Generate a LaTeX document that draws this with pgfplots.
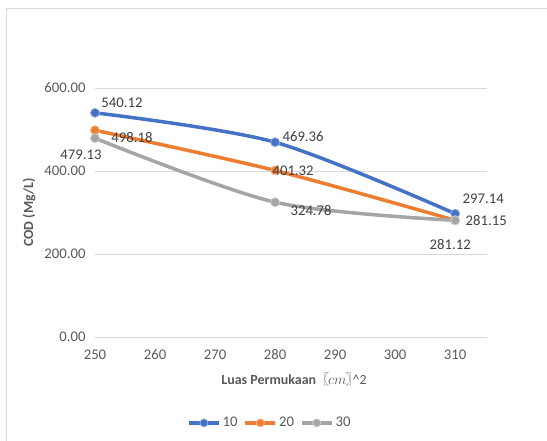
\documentclass[border=0pt]{standalone}
\usepackage{fontspec}
\setmainfont{Carlito}
\newfontfamily\cjk{Noto Sans CJK SC}
\usepackage{pgfplots}
\usepackage{pgfplotstable}
\pgfplotsset{compat=1.18}

\definecolor{sblue}{HTML}{4472C4}
\definecolor{sorange}{HTML}{ED7D31}
\definecolor{sgray}{HTML}{A5A5A5}
\definecolor{gridc}{HTML}{D9D9D9}
\definecolor{tickc}{HTML}{595959}
\definecolor{labc}{HTML}{404040}

% x, COD, label offsets (bp)
\pgfplotstableread{
x   y       dx   dy
250 540.12  27   10
280 469.36  28   6
310 297.14  28   15
}\seriesA
\pgfplotstableread{
x   y       dx   dy
250 498.18  37   -7
280 401.32  18   0
310 281.12  -5   -24
}\seriesB
\pgfplotstableread{
x   y       dx   dy
250 479.13  -14  -17
280 324.78  36   -8
310 281.15  31   0
}\seriesC

\pgfplotsset{
  codline/.style={
    color=#1, line width=3.5bp, smooth, tension=0.5,
    mark=*, mark size=4.5bp,
    mark options={fill=#1, draw=#1!55!white, line width=0.8bp},
    visualization depends on={\thisrow{dx}\as\dx},
    visualization depends on={\thisrow{dy}\as\dy},
    nodes near coords={\pgfmathprintnumber[fixed,precision=2,zerofill]{\pgfplotspointmeta}},
    point meta=y,
    every node near coord/.style={anchor=center, text=labc,
      font=\fontsize{14.8}{17}\selectfont, xshift=\dx bp, yshift=\dy bp},
  },
}

\begin{document}
\begin{tikzpicture}
  \useasboundingbox (0,0) rectangle (547bp,441bp);
  % chart frame
  \draw[gridc, line width=1.2bp] (6.5bp,-20bp) -- (6.5bp,432.5bp) -- (580bp,432.5bp);
  \begin{axis}[
    at={(95bp,104bp)}, anchor=south west,
    scale only axis, width=392bp, height=249bp,
    xmin=250, xmax=315.3, ymin=0, ymax=600,
    xtick={250,260,...,310}, ytick={0,200,...,600},
    axis line style={draw=none},
    major tick length=0pt,
    ymajorgrids, grid style={gridc, line width=1bp},
    tick label style={text=tickc, font=\fontsize{14.8}{17}\selectfont},
    /pgf/number format/assume math mode=true,
    yticklabel style={/pgf/number format/.cd, fixed, precision=2, zerofill},
    xticklabel style={/pgf/number format/.cd, 1000 sep={}},
    xticklabel shift=9bp, yticklabel shift=6bp,
    ylabel={\textbf{COD (Mg/L)}},
    ylabel style={text=tickc, font=\fontsize{14}{16}\selectfont, yshift=2bp},
    xlabel={\textbf{Luas Permukaan}\kern-0.05em{\cjk 〖}\kern-0.1em$cm$\kern-0.05em{\cjk 〗}\kern-0.5em\^{}2},
    xlabel style={text=tickc, font=\fontsize{14}{16}\selectfont, yshift=-6bp, xshift=3bp},
    legend columns=3,
    legend style={draw=none, fill=none, at={(0.446,-0.345)}, anchor=center,
      font=\fontsize{14.8}{17}\selectfont, text=tickc,
      /tikz/every even column/.append style={column sep=4bp}},
    legend image code/.code={
      \draw[mark repeat=2, mark phase=2, line width=3.5bp, mark size=4bp]
        plot coordinates {(0bp,0bp) (15bp,0bp) (30bp,0bp)};},
    clip=false,
  ]
    \addplot[codline=sblue] table[x=x,y=y] {\seriesA};
    \addlegendentry{10}
    \addplot[codline=sorange] table[x=x,y=y] {\seriesB};
    \addlegendentry{20}
    \addplot[codline=sgray] table[x=x,y=y] {\seriesC};
    \addlegendentry{30}
  \end{axis}
\end{tikzpicture}
\end{document}
